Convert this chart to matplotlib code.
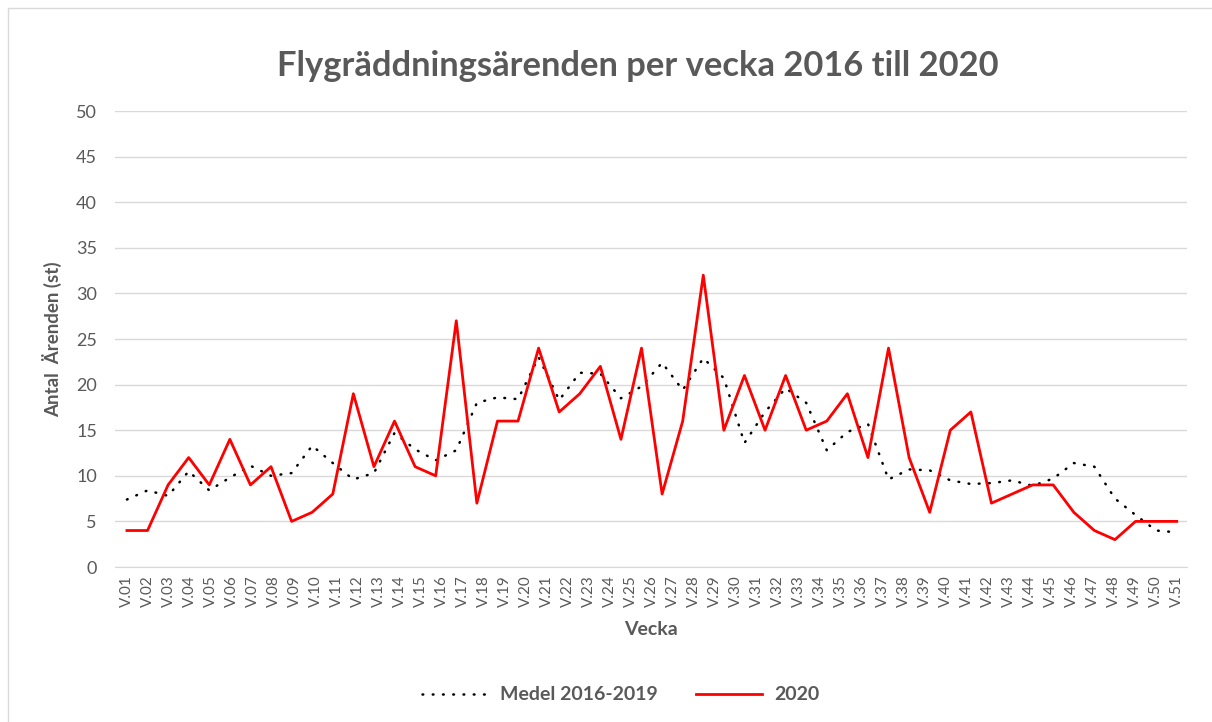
import matplotlib
matplotlib.use("Agg")
import matplotlib.pyplot as plt
from matplotlib.patches import Rectangle
import numpy as np

plt.rcParams['font.family'] = ['Lato', 'DejaVu Sans']

# weekly values (52 points, 51 week labels)
medel = [7.4, 8.4, 7.8, 10.5, 8.4, 9.8, 11.1, 10.0, 10.3, 13.3,
         11.4, 9.6, 10.3, 14.7, 12.9, 11.7, 12.8, 18.0, 18.6, 18.4,
         23.0, 18.3, 21.3, 21.2, 18.5, 19.8, 22.4, 19.4, 22.9, 20.7,
         13.6, 17.0, 19.6, 18.0, 12.8, 14.8, 15.7, 9.6, 10.7, 10.6,
         9.5, 9.1, 9.2, 9.5, 8.9, 9.7, 11.4, 11.0, 7.5, 5.7,
         4.0, 3.8]
ar2020 = [4, 4, 9, 12, 9, 14, 9, 11, 5, 6,
          8, 19, 11, 16, 11, 10, 27, 7, 16, 16,
          24, 17, 19, 22, 14, 24, 8, 16, 32, 15,
          21, 15, 21, 15, 16, 19, 12, 24, 12, 6,
          15, 17, 7, 8, 9, 9, 6, 4, 3, 5,
          5, 5]
veckor = ["V.%02d" % i for i in range(1, 52)]

grey = "#595959"

fig = plt.figure(figsize=(12.12, 7.22), dpi=100)
fig.patches.append(Rectangle((8 / 1212, -0.05), 1.2, 1.05 - 8 / 722,
                             transform=fig.transFigure, fill=False,
                             edgecolor="#d9d9d9", linewidth=1))
ax = fig.add_axes([115 / 1212, 155 / 722, 1072 / 1212, 456 / 722])

x = np.arange(len(ar2020))
ax.plot(x, medel, color="black", linewidth=1.8, linestyle=(0, (0.3, 3.8)),
        dash_capstyle="round", label="Medel 2016-2019")
ax.plot(x, ar2020, color="#ff0000", linewidth=2.0, label="2020")

ax.set_xlim(-0.58, len(ar2020) - 1 + 0.5)
ax.set_ylim(0, 50)
ax.set_yticks(range(0, 51, 5))
ax.set_xticks(np.linspace(0, len(ar2020) - 1, len(veckor)))
ax.set_xticklabels(veckor, rotation=90, fontsize=11, color=grey)
ax.tick_params(axis="y", labelsize=13, colors=grey, length=0, pad=13)
ax.tick_params(axis="x", length=0, pad=6)
ax.grid(axis="y", color="#d9d9d9", linewidth=1)
ax.set_axisbelow(True)
for s in ["top", "right", "left"]:
    ax.spines[s].set_visible(False)
ax.spines["bottom"].set_color("#d9d9d9")

ax.set_ylabel("Antal  Ärenden (st)", fontsize=13.5, fontweight="bold", color=grey, labelpad=10)
ax.set_xlabel("Vecka", fontsize=14, fontweight="bold", color=grey, labelpad=10)
fig.text(0.526, 1 - 66 / 722, "Flygräddningsärenden per vecka 2016 till 2020",
         ha="center", va="center", fontsize=24.8, fontweight="bold", color=grey)

leg = fig.legend(loc="center", bbox_to_anchor=(0.512, 1 - 695 / 722), ncol=2,
                 frameon=False, handlelength=3.4, columnspacing=2.0,
                 handletextpad=0.6, prop={"weight": "bold", "size": 14})
for t in leg.get_texts():
    t.set_color(grey)

fig.savefig("out.png", dpi=100)
